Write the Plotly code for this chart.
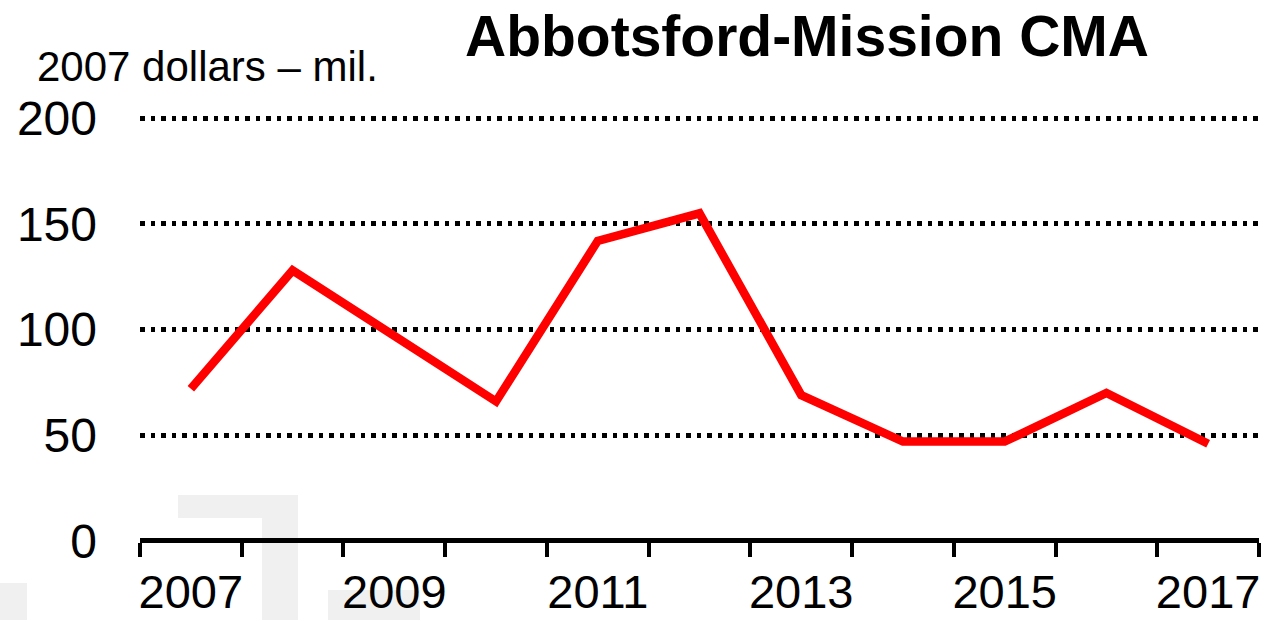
import plotly.graph_objects as go

# Annual values, 2007 dollars (millions)
years = [2007, 2008, 2009, 2010, 2011, 2012, 2013, 2014, 2015, 2016, 2017]
values = [72, 128, 97, 66, 142, 155, 69, 47, 47, 70, 46]
x_tick_years = [2007, 2009, 2011, 2013, 2015, 2017]
y_ticks = [0, 50, 100, 150, 200]

title_text = "Abbotsford-Mission CMA"
y_label = "2007 dollars \u2013 mil."

FONT = "Liberation Sans, Arial, sans-serif"
W, H = 1264, 620
M_L, M_R, M_T, M_B = 140, 5, 114, 78

fig = go.Figure()
fig.add_trace(go.Scatter(
    x=years, y=values, mode="lines",
    line=dict(color="#ff0000", width=8.5),
    hoverinfo="x+y", showlegend=False,
))

# faint background logo blocks (pixel boxes converted to paper coordinates)
logo_fill = "#f0f0f0"
logo_blocks = [
    (178, 495, 298, 518),
    (262, 518, 298, 620),
    (0, 583, 27, 620),
    (328, 590, 420, 620),
]
shapes = []
for x0, y0, x1, y1 in logo_blocks:
    shapes.append(dict(
        type="rect", xref="paper", yref="paper", layer="below",
        x0=(x0 - M_L) / (W - M_L - M_R), x1=(x1 - M_L) / (W - M_L - M_R),
        y0=(H - M_B - y1) / (H - M_T - M_B), y1=(H - M_B - y0) / (H - M_T - M_B),
        fillcolor=logo_fill, line=dict(width=0),
    ))

fig.update_layout(
    width=W, height=H,
    margin=dict(l=M_L, r=M_R, t=M_T, b=M_B, pad=0, autoexpand=False),
    paper_bgcolor="white", plot_bgcolor="rgba(0,0,0,0)",
    font=dict(family=FONT, color="black"),
    title=dict(
        text=title_text, xref="container", yref="container",
        x=807 / W, xanchor="center", y=1 - 36 / H, yanchor="middle",
        font=dict(family=FONT, size=57, weight=700, color="black"),
    ),
    shapes=shapes,
    annotations=[dict(
        text=y_label, xref="paper", yref="paper",
        x=(35 - M_L) / (W - M_L - M_R), xanchor="left",
        y=(H - M_B - 67) / (H - M_T - M_B), yanchor="middle",
        showarrow=False, font=dict(family=FONT, size=42, color="black"),
    )],
    xaxis=dict(
        range=[2006.5, 2017.5], tickmode="array", tickvals=x_tick_years,
        ticktext=[str(y) for y in x_tick_years], ticks="",
        showgrid=False, zeroline=False, showline=False,
        automargin=False,
        tickfont=dict(family=FONT, size=47, color="black"),
        ticklabelstandoff=18,
        minor=dict(tick0=2006.5, dtick=1, ticks="outside", ticklen=14,
                   tickwidth=4, tickcolor="black", showgrid=False),
        fixedrange=True,
    ),
    yaxis=dict(
        range=[-0.5, 202], tickmode="array", tickvals=y_ticks,
        ticks="", showline=False, automargin=False,
        zeroline=True, zerolinecolor="black", zerolinewidth=4.5,
        showgrid=True, gridcolor="black", gridwidth=5, griddash="4.5px,6px",
        tickfont=dict(family=FONT, size=48, color="black"),
        ticklabelstandoff=42,
        fixedrange=True,
    ),
)

fig.write_html("out.html")
